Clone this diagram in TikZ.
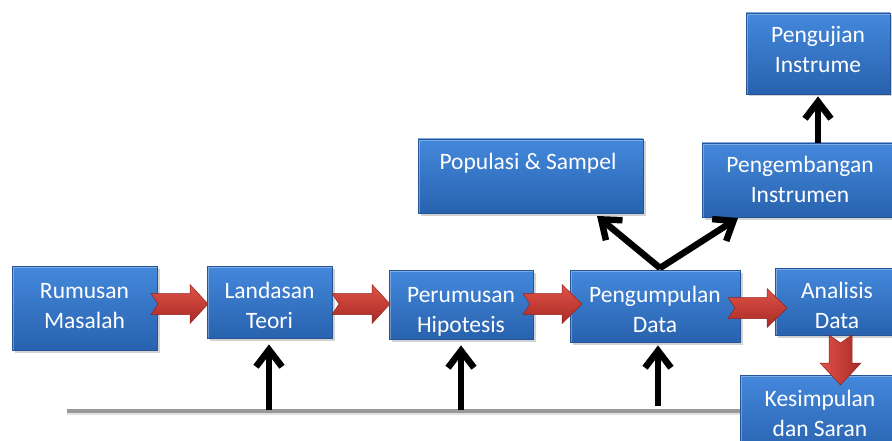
\documentclass[tikz,border=0pt]{standalone}
\usepackage{fontspec}
\setmainfont{Carlito}
\usetikzlibrary{shadows,arrows.meta}
\definecolor{btop}{RGB}{68,136,220}
\definecolor{bbot}{RGB}{40,98,174}
\definecolor{bedge}{RGB}{38,84,150}
\definecolor{rtop}{RGB}{224,82,72}
\definecolor{rbot}{RGB}{168,42,36}
\tikzset{
  box/.style={rectangle, inner sep=0pt, draw=bedge, line width=0.8pt,
    top color=btop, bottom color=bbot,
    drop shadow={shadow xshift=2.5pt, shadow yshift=-2.5pt, opacity=0.35},
    path picture={\draw[white, opacity=0.3, line width=4pt]
      (path picture bounding box.south west) -- (path picture bounding box.north west)
      -- (path picture bounding box.north east);}},
  txt/.style={text=white, align=center, inner sep=0pt, font=\fontsize{23.5}{30}\selectfont},
  blk/.style={line width=6.5pt, draw=black, -{Straight Barb[length=17pt,width=26pt]}},
  redarr/.style={top color=rtop, bottom color=rbot, draw=rbot!85!black, line width=0.5pt},
  redarrv/.style={left color=rtop, right color=rbot, draw=rbot!85!black, line width=0.5pt},
}
\newcommand\harrow[4]{%
  \path[redarr] (#1,#4-10.5) -- (#2,#4-10.5) -- (#2,#4-19.5) -- (#3,#4)
    -- (#2,#4+19.5) -- (#2,#4+10.5) -- (#1,#4+10.5) -- (#1+7,#4) -- cycle;}
\begin{document}
\begin{tikzpicture}[x=1pt,y=-1pt]
\useasboundingbox (0,0) rectangle (892,441);
\clip (0,0) rectangle (892,441);
\fill[white] (0,0) rectangle (892,441);

% gray base line
\coordinate (gl) at (67,411);
\coordinate (gr) at (740,411);
\draw[line width=4pt, black!12] ([yshift=-2pt]gl) -- ([yshift=-2pt]gr);
\draw[line width=3.5pt, black!40] (gl) -- (gr);

% boxes
\node[box, minimum width=145pt, minimum height=84pt] (rm) at (84.5,308) {};
\node[box, minimum width=125pt, minimum height=72pt] (lt) at (269.5,302) {};
\node[box, minimum width=144pt, minimum height=69pt] (ph) at (461,304.5) {};
\node[box, minimum width=170pt, minimum height=72pt] (pd) at (655,306) {};
\node[box, minimum width=125pt, minimum height=67pt] (ad) at (837.5,301.5) {};
\node[box, minimum width=160pt, minimum height=80pt] (ks) at (820,415) {};
\node[box, minimum width=225pt, minimum height=74pt] (ps) at (530.5,176) {};
\node[box, minimum width=196pt, minimum height=74pt] (pi) at (800,180) {};
\node[box, minimum width=144pt, minimum height=81pt] (pj) at (818,53.5) {};

% texts
\node[txt] (rmt) at (84.5,307) {\strut Rumusan\\\strut Masalah};
\node[txt] (ltt) at (269.5,307) {\strut Landasan\\\strut Teori};
\node[txt] (pht) at (461,311) {\strut Perumusan\\\strut Hipotesis};
\node[txt] (pdt) at (655,311) {\strut Pengumpulan\\\strut Data};
\node[txt] (adt) at (837,307) {\strut Analisis\\\strut Data};
\node[txt] (kst) at (820,415) {\strut Kesimpulan\\\strut dan Saran};
\node[txt] (pst) at (528,164) {\strut Populasi \& Sampel};
\node[txt] (pit) at (800,182) {\strut Pengembangan\\\strut Instrumen};
\node[txt] (pjt) at (818,52) {\strut Pengujian\\\strut Instrume};

% red block arrows
\harrow{151}{190}{208}{304}
\harrow{332}{372}{390}{304}
\harrow{523}{562}{582}{304}
\harrow{728}{767}{787}{308}
\path[redarrv] (829,335) -- (840.5,343) -- (852,335) -- (852,363) -- (861,363)
  -- (840.5,385) -- (820,363) -- (829,363) -- cycle;

% black arrows from base line
\coordinate (g1) at (269,410);
\coordinate (g2) at (461,410);
\coordinate (g3) at (658,406);
\draw[blk, shorten >=6pt] (g1) -- (g1 |- lt.south);
\draw[blk, shorten >=6pt] (g2) -- (g2 |- ph.south);
\draw[blk, shorten >=3pt] (g3) -- (g3 |- pd.south);

% V arrows
\coordinate (apex) at (660,268);
\coordinate (psend) at (597,216);
\coordinate (piend) at (738,218);
\draw[blk] (apex) -- (psend);
\draw[blk] (apex) -- (piend);
\fill[black] (apex) ++(-4,-2) -- ++(4,4) -- ++(4,-4) -- cycle;

% up to Pengujian
\draw[blk, shorten >=2pt] (pj.south |- pi.north) -- (pj.south);
\end{tikzpicture}
\end{document}
